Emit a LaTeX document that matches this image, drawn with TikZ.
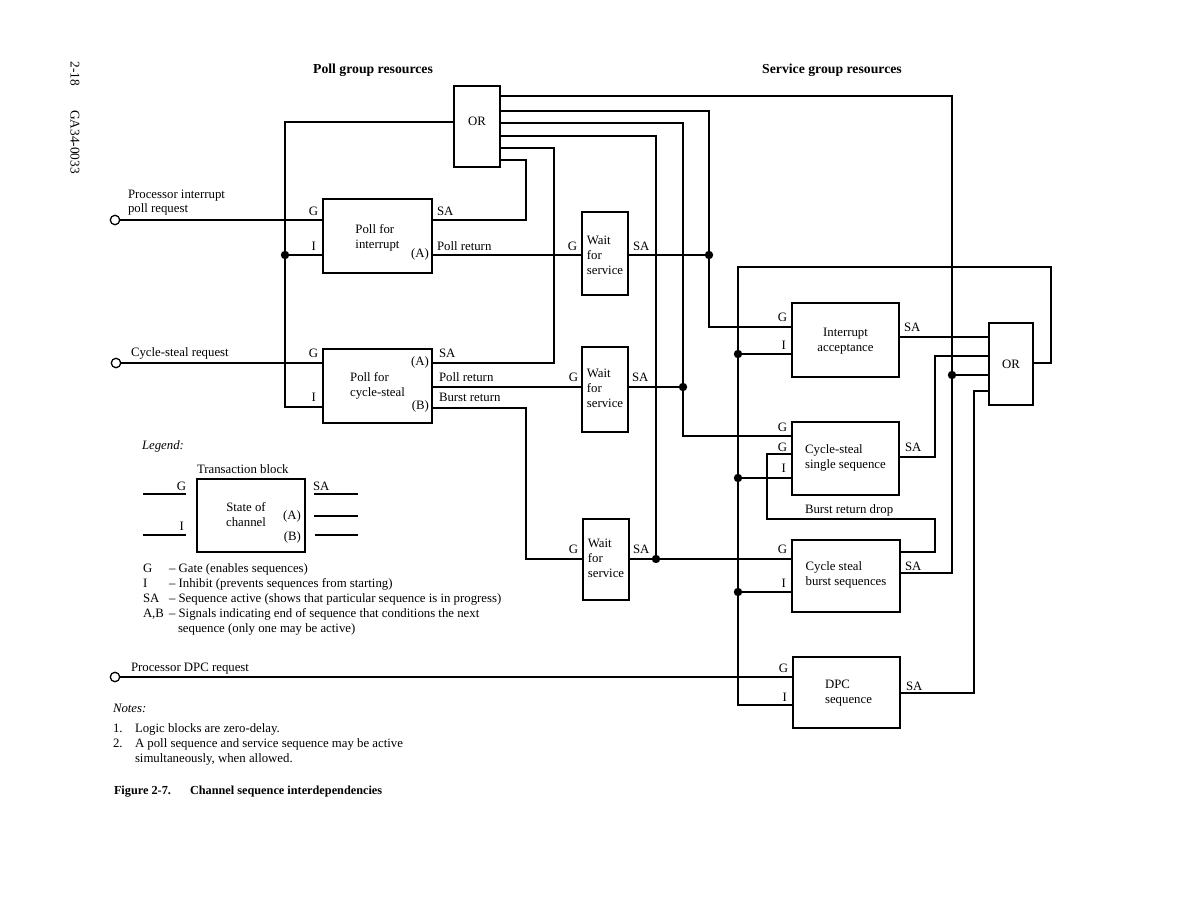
\documentclass[tikz,border=0pt]{standalone}
\usepackage{fontspec}
\setmainfont{Liberation Serif}
\usetikzlibrary{fit}
\newcommand\myfont{\fontsize{9.6}{11.25}\selectfont}
\newcommand\mytitle{\fontsize{10.3}{12}\selectfont\bfseries}
\newcommand\mycap{\fontsize{9.2}{11}\selectfont\bfseries}
\newcommand\lblk[1]{\begin{tabular}{@{}l@{}}#1\end{tabular}}
\newcommand\cblk[1]{\begin{tabular}{@{}c@{}}#1\end{tabular}}
\begin{document}
\begin{tikzpicture}[x=0.75pt,y=-0.75pt,
  wire/.style={line width=0.85pt},
  box/.style={draw, line width=0.85pt, inner sep=0pt, outer sep=0pt},
  txt/.style={inner sep=0pt, outer sep=0pt, font=\myfont},
  lw/.style={txt, anchor=base west},
  le/.style={txt, anchor=base east},
  dot/.style={circle, fill=black, inner sep=0pt, minimum size=6.3pt},
  term/.style={circle, draw, fill=white, line width=0.85pt, inner sep=0pt, minimum size=7pt},
]
\useasboundingbox (0,0) rectangle (1188,919);

% page header (rotated)
\node[txt, font=\fontsize{10}{12}\selectfont, rotate=-90] (pg) at (75,74) {2-18};
\node[txt, font=\fontsize{10}{12}\selectfont, rotate=-90] (doc) at (75,142) {GA34-0033};

% titles
\node[txt, font=\mytitle, anchor=base] (t1) at (373,74) {Poll group resources};
\node[txt, font=\mytitle, anchor=base] (t2) at (832,74) {Service group resources};

% ---------- boxes ----------
\node[box, fit={(454,86)(500,167)}] (or1) {};
\node[box, fit={(323,199)(432,273)}] (pi) {};
\node[box, fit={(323,349)(432,423)}] (pc) {};
\node[box, fit={(582,212)(628,295)}] (w1) {};
\node[box, fit={(582,347)(628,432)}] (w2) {};
\node[box, fit={(583,519)(629,600)}] (w3) {};
\node[box, fit={(792,303)(899,377)}] (ia) {};
\node[box, fit={(792,422)(899,495)}] (cs) {};
\node[box, fit={(792,540)(900,612)}] (bs) {};
\node[box, fit={(793,657)(900,728)}] (dpc) {};
\node[box, fit={(989,323)(1033,405)}] (or2) {};

% box texts
\node[txt] (or1t) at ([yshift=4pt]or1.center) {OR};
\node[txt] (pit) at ([yshift=-1.5pt]pi.center) {\lblk{Poll for\\interrupt}};
\node[txt] (pct) at (pc.center) {\lblk{Poll for\\cycle-steal}};
\node[txt] (w1t) at ([yshift=-2pt]w1.center) {\lblk{Wait\\for\\service}};
\node[txt] (w2t) at (w2.center) {\lblk{Wait\\for\\service}};
\node[txt] (w3t) at (w3.center) {\lblk{Wait\\for\\service}};
\node[txt] (iat) at ([yshift=-0.75pt]ia.center) {\cblk{Interrupt\\acceptance}};
\node[txt] (cst) at ([yshift=0.5pt]cs.center) {\lblk{Cycle-steal\\single sequence}};
\node[txt] (bst) at ([yshift=1pt]bs.center) {\lblk{Cycle steal\\burst sequences}};
\node[txt] (dpct) at ([xshift=1.5pt]dpc.center) {\lblk{DPC\\sequence}};
\node[txt] (or2t) at (or2.center) {OR};

% terminals and junction dots
\node[term] (inPI) at (115,220) {};
\node[term] (inCS) at (116,363) {};
\node[term] (inDPC) at (115,677) {};
\node[dot] (d1) at (285,255) {};
\node[dot] (d2) at (709,255) {};
\node[dot] (d3) at (683,387) {};
\node[dot] (d4) at (656,559) {};
\node[dot] (d5) at (952,375) {};
\node[dot] (d6) at (738,354) {};
\node[dot] (d7) at (738,478) {};
\node[dot] (d8) at (738,592) {};

% ---------- wires ----------
\begin{scope}[wire]
% inputs
\draw (inPI) -- (pi.west|-0,220);
\draw (inCS) -- (pc.west|-0,363);
\draw (inDPC) -- (dpc.west|-0,677);
% OR1 output to poll inhibits
\draw (or1.west|-0,122) -| (d1.center) |- (pc.west|-0,407);
\draw (d1.center) -- (pi.west|-0,255);
% poll SA lines into OR1
\draw (pi.east|-0,220) -- (526,220) |- (or1.east|-0,160);
\draw (pc.east|-0,363) -- (554,363) |- (or1.east|-0,148);
% poll returns
\draw (pi.east|-0,255) -- (w1.west|-0,255);
\draw (pc.east|-0,387) -- (w2.west|-0,387);
\draw (pc.east|-0,408) -- (526,408) |- (w3.west|-0,559);
% wait SA lines
\draw (or1.east|-0,111) -| (d2.center) |- (ia.west|-0,327);
\draw (w1.east|-0,255) -- (d2.center);
\draw (or1.east|-0,123) -| (d3.center) |- (cs.west|-0,436);
\draw (w2.east|-0,387) -- (d3.center);
\draw (or1.east|-0,136) -| (d4.center) -- (bs.west|-0,559);
\draw (w3.east|-0,559) -- (d4.center);
% burst SA to OR1 and OR2
\draw (or1.east|-0,96) -| (d5.center) |- (bs.east|-0,573);
\draw (d5.center) -- (or2.west|-0,375);
% service SA lines into OR2
\draw (ia.east|-0,337) -- (or2.west|-0,337);
\draw (cs.east|-0,457) -- (935,457) |- (or2.west|-0,356);
\draw (dpc.east|-0,693) -- (974,693) |- (or2.west|-0,391);
% OR2 output to service inhibits
\draw (or2.east|-0,363) -- (1051,363) -- (1051,267) -| (d6.center) -- (d7.center) -- (d8.center) |- (dpc.west|-0,705);
\draw (d6.center) -- (ia.west|-0,354);
\draw (d7.center) -- (cs.west|-0,478);
\draw (d8.center) -- (bs.west|-0,592);
% burst return drop
\draw (bs.east|-0,552) -- (935,552) |- (767,519) |- (cs.west|-0,454);
\end{scope}

% redraw terminals on top
\node[term] at (inPI) {};
\node[term] at (inCS) {};
\node[term] at (inDPC) {};

% ---------- port labels ----------
\node[lw] (lPI1) at (128,199) {Processor interrupt};
\node[lw] (lPI2) at (128,213) {poll request};
\node[lw] (lCS) at (131,357) {Cycle-steal request};
\node[lw] (lDPC) at (131,671) {Processor DPC request};

\node[le] (piG) at (318,216) {G};
\node[le] (piI) at (316,251) {I};
\node[lw] (piSA) at (437,216) {SA};
\node[lw] (piPR) at (437,251) {Poll return};
\node[le] (piA) at (429,258) {(A)};

\node[le] (pcG) at (318,358) {G};
\node[le] (pcI) at (316,402) {I};
\node[lw] (pcSA) at (439,358) {SA};
\node[le] (pcA) at (429,366) {(A)};
\node[lw] (pcPR) at (439,382) {Poll return};
\node[lw] (pcBR) at (439,402) {Burst return};
\node[le] (pcB) at (429,410) {(B)};

\node[le] (w1G) at (577,251) {G};
\node[lw] (w1SA) at (633,251) {SA};
\node[le] (w2G) at (578,382) {G};
\node[lw] (w2SA) at (632,382) {SA};
\node[le] (w3G) at (578,553) {G};
\node[lw] (w3SA) at (633,553) {SA};

\node[le] (iaG) at (787,322) {G};
\node[le] (iaI) at (786,350) {I};
\node[lw] (iaSA) at (904,332) {SA};
\node[le] (csG1) at (787,432) {G};
\node[le] (csG2) at (787,452) {G};
\node[le] (csI) at (786,473) {I};
\node[lw] (csSA) at (905,452) {SA};
\node[lw] (brd) at (805,513) {Burst return drop};
\node[le] (bsG) at (787,553) {G};
\node[le] (bsI) at (786,587) {I};
\node[lw] (bsSA) at (905,570) {SA};
\node[le] (dpcG) at (788,672) {G};
\node[le] (dpcI) at (787,701) {I};
\node[lw] (dpcSA) at (906,690) {SA};

% ---------- legend ----------
\node[lw, font=\myfont\itshape] (legh) at (142,450) {Legend:};
\node[lw] (legtb) at (197,474) {Transaction block};
\node[box, fit={(197,479)(305,552)}] (leg) {};
\node[txt] (legt) at (246,516) {\cblk{State of\\channel}};
\node[le] (legA) at (301,519) {(A)};
\node[le] (legB) at (301,540) {(B)};
\node[le] (legG) at (186,490) {G};
\node[le] (legI) at (184,530) {I};
\node[lw] (legSA) at (313,490) {SA};
\draw[wire] (143,494) -- (186,494);
\draw[wire] (143,535) -- (186,535);
\draw[wire] (314,494) -- (358,494);
\draw[wire] (314,516) -- (358,516);
\draw[wire] (315,535) -- (358,535);

\node[lw] (k1) at (143,572) {G};
\node[lw] (k2) at (143,587) {I};
\node[lw] (k3) at (143,602) {SA};
\node[lw] (k4) at (143,617) {A,B};
\node[lw] (v1) at (169,572) {– Gate (enables sequences)};
\node[lw] (v2) at (169,587) {– Inhibit (prevents sequences from starting)};
\node[lw] (v3) at (169,602) {– Sequence active (shows that particular sequence is in progress)};
\node[lw] (v4) at (169,617) {– Signals indicating end of sequence that conditions the next};
\node[lw] (v5) at (178,632) {sequence (only one may be active)};

% ---------- notes ----------
\node[lw, font=\myfont\itshape] (nh) at (113,712) {Notes:};
\node[lw] (n1) at (113,732) {1.};
\node[lw] (n1t) at (135,732) {Logic blocks are zero-delay.};
\node[lw] (n2) at (113,747) {2.};
\node[lw] (n2t) at (135,747) {A poll sequence and service sequence may be active};
\node[lw] (n2u) at (135,762) {simultaneously, when allowed.};

\node[lw, font=\mycap] (cap1) at (114,794) {Figure 2-7.};
\node[lw, font=\mycap] (cap2) at (190,794) {Channel sequence interdependencies};
\end{tikzpicture}
\end{document}
